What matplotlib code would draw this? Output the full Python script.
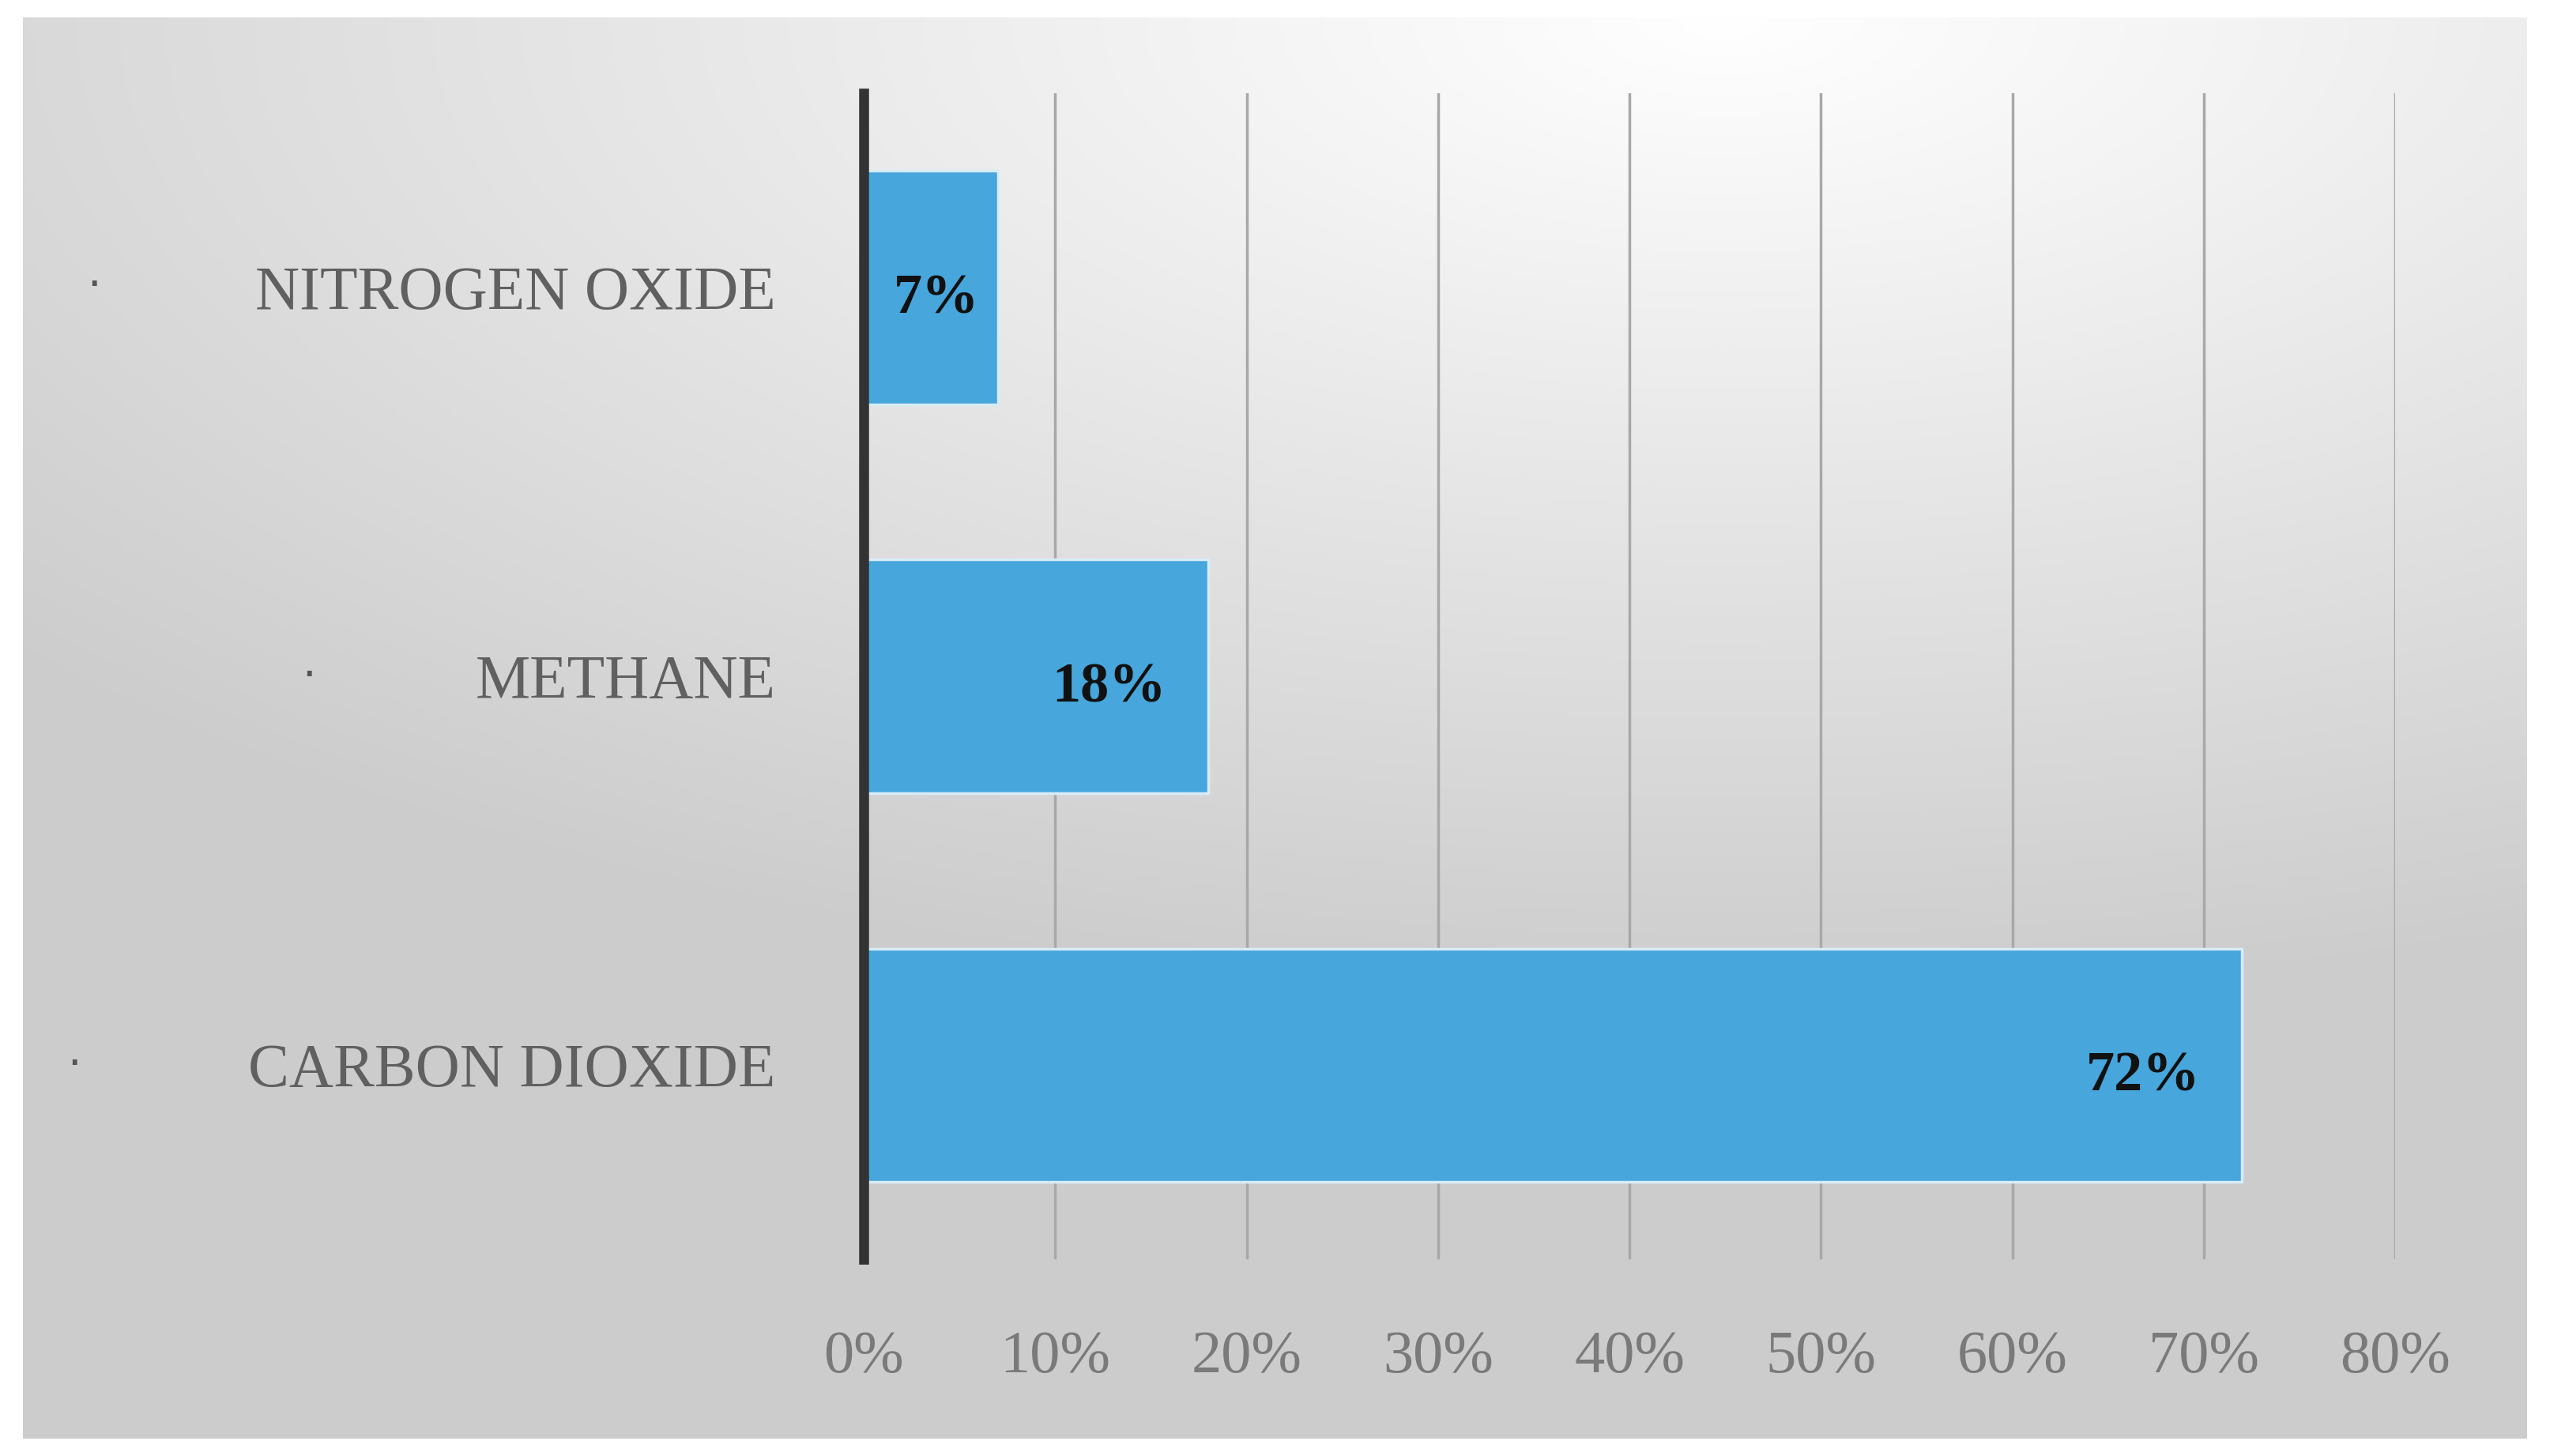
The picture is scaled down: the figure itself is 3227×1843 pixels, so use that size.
import matplotlib
matplotlib.use("Agg")
import matplotlib.pyplot as plt
import numpy as np

categories = ["CARBON DIOXIDE", "METHANE", "NITROGEN OXIDE"]
values = [72, 18, 7]
xticks = [0, 10, 20, 30, 40, 50, 60, 70, 80]

fig = plt.figure(figsize=(32.27, 18.43), dpi=100)
fig.patch.set_facecolor("white")

# gradient background
bg = fig.add_axes([0.009, 0.012, 0.982, 0.976])
yy, xx = np.mgrid[0:1:400j, 0:1:700j]
d = np.sqrt(((xx - 0.68) * 1.0) ** 2 + ((yy - 0.0) * 1.3) ** 2)
g = np.clip(1.0 - 0.22 * d, 0.80, 1.0)
bg.imshow(np.dstack([g, g, g]), aspect="auto", extent=[0, 1, 0, 1], origin="upper")
bg.axis("off")

ax = fig.add_axes([0.3387, 0.135, 0.6006, 0.801])
ax.patch.set_alpha(0)
y = np.arange(len(categories))
ax.barh(y, values, height=0.6, color="#47a6db", edgecolor="#d8ecf8", linewidth=2.5, zorder=3)
ax.set_xlim(0, 80)
ax.set_ylim(-0.5, 2.5)
ax.set_xticks(xticks)
ax.set_xticklabels([f"{t}%" for t in xticks], family="Liberation Serif", fontsize=55, color="#7a7a7a")
ax.set_yticks(y)
ax.set_yticklabels(categories, family="Liberation Serif", fontsize=56, color="#606060")
ax.tick_params(axis="y", length=0, pad=80)
ax.tick_params(axis="x", length=0, pad=65)
ax.grid(axis="x", color="#a8a8a8", linewidth=2.5, zorder=1)
for s in ["top", "right", "bottom"]:
    ax.spines[s].set_visible(False)
ax.spines["left"].set_linewidth(9)
ax.spines["left"].set_color("#333333")
ax.spines["left"].set_zorder(4)

for yi, v in zip(y, values):
    if v < 10:
        ax.text(v / 2 + 0.3, yi - 0.03, f"{v}%", ha="center", va="center",
                family="Liberation Serif", fontsize=52, fontweight="bold", color="#111111", zorder=5)
    else:
        ax.text(v - 2.2, yi - 0.03, f"{v}%", ha="right", va="center",
                family="Liberation Serif", fontsize=52, fontweight="bold", color="#111111", zorder=5)

# bullets
for bx, by in [(0.029, 0.268), (0.121, 0.535), (0.037, 0.803)]:
    fig.text(bx, by, "·", fontsize=40, color="#555555", ha="center", va="center")

fig.savefig("out.png", dpi=100)
